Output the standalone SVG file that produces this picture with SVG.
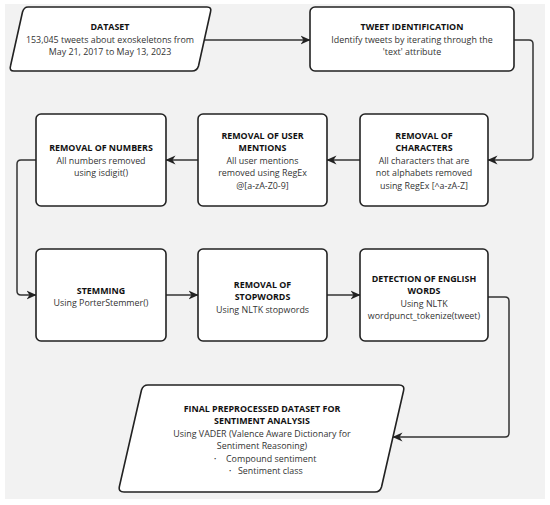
<svg xmlns="http://www.w3.org/2000/svg" width="550" height="505" viewBox="0 0 550 505">
<style>
.box{fill:#fff;stroke:#222;stroke-width:1.6}
.t{font-family:"Open Sans","Noto Sans",sans-serif;font-size:8.9px;fill:#333;text-anchor:middle}
.b{font-weight:700;fill:#111}
.s{text-anchor:start}
.d{font-size:6px}
.c{fill:none;stroke:#333;stroke-width:1.5}
</style>
<defs>
<marker id="ah" markerUnits="userSpaceOnUse" markerWidth="10" markerHeight="10" refX="9.5" refY="5" orient="auto">
<path d="M0,0.5 L10,5 L0,9.5 L3,5 z" fill="#222"/>
</marker>
</defs>
<rect x="5" y="4" width="540" height="495" fill="#f2f2f2"/>
<g id="connectors">
<path class="c" d="M204,40 H310" marker-end="url(#ah)"/>
<path class="c" d="M514,40 H529 Q533,40 533,44 V156 Q533,160 529,160 H488" marker-end="url(#ah)"/>
<path class="c" d="M360,160 H327" marker-end="url(#ah)"/>
<path class="c" d="M198,160 H166" marker-end="url(#ah)"/>
<path class="c" d="M36,160 H21 Q17,160 17,164 V291 Q17,295 21,295 H36" marker-end="url(#ah)"/>
<path class="c" d="M166,295 H198" marker-end="url(#ah)"/>
<path class="c" d="M327,295 H360" marker-end="url(#ah)"/>
<path class="c" d="M488,297 H505 Q509,297 509,301 V433 Q509,437 505,437 H393" marker-end="url(#ah)"/>
</g>
<g id="dataset">
<path class="box" d="M28,7 H207 Q212,7 210.5,12 L198.5,66 Q197,71 192,71 H14 Q9,71 10.5,66 L22.5,12 Q24,7 28,7 Z"/>
<text class="t b" x="110" y="30">DATASET</text>
<text class="t" x="110" y="42.5">153,045 tweets about exoskeletons from</text>
<text class="t" x="110" y="55">May 21, 2017 to May 13, 2023</text>
</g>
<g id="tweet">
<rect class="box" x="310" y="7" width="204" height="64" rx="5"/>
<text class="t b" x="412" y="30">TWEET IDENTIFICATION</text>
<text class="t" x="412" y="42.5">Identify tweets by iterating through the</text>
<text class="t" x="412" y="55">'text' attribute</text>
</g>
<g id="characters">
<rect class="box" x="360" y="114" width="128" height="92" rx="5"/>
<text class="t b" x="424" y="138.5">REMOVAL OF</text>
<text class="t b" x="424" y="151">CHARACTERS</text>
<text class="t" x="424" y="163.5">All characters that are</text>
<text class="t" x="424" y="176">not alphabets removed</text>
<text class="t" x="424" y="188.5">using RegEx [^a-zA-Z]</text>
</g>
<g id="mentions">
<rect class="box" x="198" y="114" width="129" height="92" rx="5"/>
<text class="t b" x="262.5" y="138.5">REMOVAL OF USER</text>
<text class="t b" x="262.5" y="151">MENTIONS</text>
<text class="t" x="262.5" y="163.5">All user mentions</text>
<text class="t" x="262.5" y="176">removed using RegEx</text>
<text class="t" x="262.5" y="188.5">@[a-zA-Z0-9]</text>
</g>
<g id="numbers">
<rect class="box" x="36" y="114" width="130" height="92" rx="5"/>
<text class="t b" x="101" y="151">REMOVAL OF NUMBERS</text>
<text class="t" x="101" y="163.5">All numbers removed</text>
<text class="t" x="101" y="176">using isdigit()</text>
</g>
<g id="stemming">
<rect class="box" x="36" y="249" width="130" height="92" rx="5"/>
<text class="t b" x="101" y="293.5">STEMMING</text>
<text class="t" x="101" y="306">Using PorterStemmer()</text>
</g>
<g id="stopwords">
<rect class="box" x="198" y="249" width="129" height="92" rx="5"/>
<text class="t b" x="262.5" y="287.5">REMOVAL OF</text>
<text class="t b" x="262.5" y="300">STOPWORDS</text>
<text class="t" x="262.5" y="312.5">Using NLTK stopwords</text>
</g>
<g id="english">
<rect class="box" x="360" y="249" width="128" height="92" rx="5"/>
<text class="t b" x="424" y="281.5">DETECTION OF ENGLISH</text>
<text class="t b" x="424" y="294">WORDS</text>
<text class="t" x="424" y="306.5">Using NLTK</text>
<text class="t" x="424" y="319">wordpunct_tokenize(tweet)</text>
</g>
<g id="final">
<path class="box" d="M148,385 H399 Q405,385 403.5,391 L381.5,487 Q380,492 375,492 H124 Q118,492 119.5,486 L141.5,390 Q143,385 148,385 Z"/>
<text class="t b" x="262" y="411.5">FINAL PREPROCESSED DATASET FOR</text>
<text class="t b" x="262" y="424">SENTIMENT ANALYSIS</text>
<text class="t" x="262" y="436.5">Using VADER (Valence Aware Dictionary for</text>
<text class="t" x="262" y="449">Sentiment Reasoning)</text>
<text class="t s" y="461.5"><tspan class="d" x="214" dy="-0.8">•</tspan><tspan x="226" dy="0.8">Compound sentiment</tspan></text>
<text class="t s" y="474"><tspan class="d" x="229" dy="-0.8">•</tspan><tspan x="238" dy="0.8">Sentiment class</tspan></text>
</g>
</svg>
